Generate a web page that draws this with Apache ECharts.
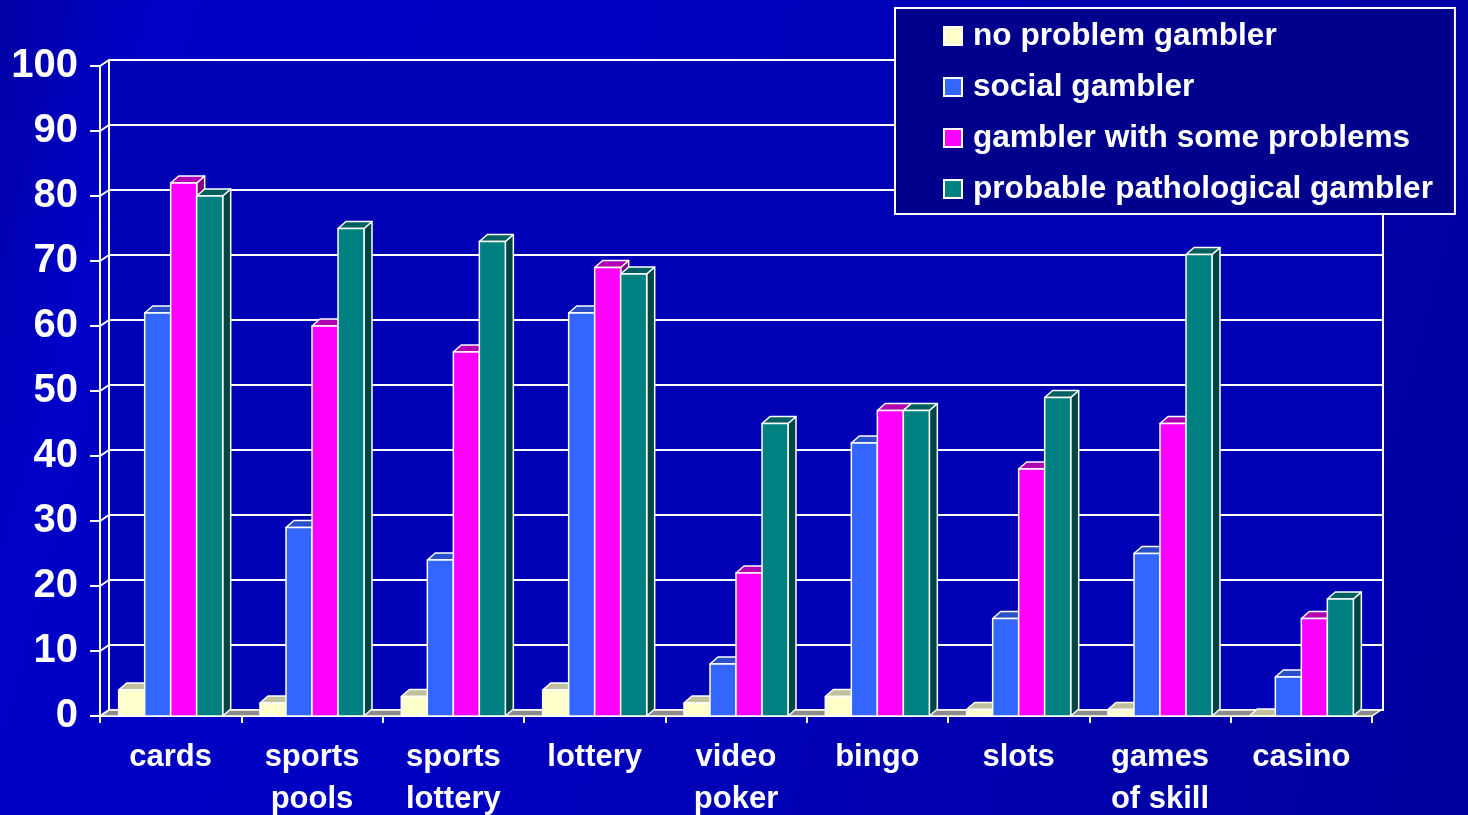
<!DOCTYPE html>
<html>
<head>
<meta charset="utf-8">
<script src="https://cdn.jsdelivr.net/npm/echarts@6/dist/echarts.min.js"></script>
<style>
  html, body { margin: 0; padding: 0; }
  #chart {
    width: 1468px;
    height: 815px;
    background: linear-gradient(105deg, #0000a4 0%, #0000c6 9%, #0000c2 35%, #0000ae 70%, #00009c 100%);
  }
</style>
</head>
<body>
<div id="chart"></div>
<script>
const categories = ['cards', 'sports\npools', 'sports\nlottery', 'lottery', 'video\npoker', 'bingo', 'slots', 'games\nof skill', 'casino'];
const noProblem = [4, 2, 3, 4, 2, 3, 1, 1, 0];
const social = [62, 29, 24, 62, 8, 42, 15, 25, 6];
const someProblems = [82, 60, 56, 69, 22, 47, 38, 45, 15];
const pathological = [80, 75, 73, 68, 45, 47, 49, 71, 18];
const yTicks = [0, 10, 20, 30, 40, 50, 60, 70, 80, 90, 100];

const seriesNames = ['no problem gambler', 'social gambler', 'gambler with some problems', 'probable pathological gambler'];
const seriesData = [noProblem, social, someProblems, pathological];
const palette = [
  { front: '#ffffcc', top: '#c0c09c', side: '#a0a080' },
  { front: '#3366ff', top: '#2a50c8', side: '#1f3c99' },
  { front: '#ff00ff', top: '#b000b0', side: '#800080' },
  { front: '#008080', top: '#006060', side: '#004444' }
];

const font = "'Liberation Sans', Arial, sans-serif";
const DX = 8, DY = 7;      // bar depth
const WX = 9, WY = 6;      // wall depth
const edge = { stroke: '#ffffff', lineWidth: 1.5, lineJoin: 'round' };

// one 3d column per data item; later series are drawn over earlier ones
function barRenderer(idx) {
  const c = palette[idx];
  return function (params, api) {
    const cat = api.value(0);
    const base = api.coord([cat, 0]);
    const top = api.coord([cat, api.value(1)]);
    const w = api.size([1, 0])[0] * 0.184;
    const x = base[0] - 2 * w + idx * w;
    const y = top[1], y0 = base[1];
    return {
      type: 'group',
      children: [
        { type: 'polygon', shape: { points: [[x + w, y], [x + w + DX, y - DY], [x + w + DX, y0 - DY], [x + w, y0]] },
          style: Object.assign({ fill: c.side }, edge) },
        { type: 'polygon', shape: { points: [[x, y], [x + DX, y - DY], [x + w + DX, y - DY], [x + w, y]] },
          style: Object.assign({ fill: c.top }, edge) },
        { type: 'rect', shape: { x: x, y: y, width: w, height: y0 - y },
          style: Object.assign({ fill: c.front }, edge) }
      ]
    };
  };
}

// left wall diagonals and grey floor
function wallRenderer(params, api) {
  const cs = params.coordSys;
  const p = api.coord([0, api.value(1)]);
  const children = [
    { type: 'line', shape: { x1: cs.x, y1: p[1], x2: cs.x + WX, y2: p[1] - WY },
      style: { stroke: '#ffffff', lineWidth: 2 } }
  ];
  if (api.value(1) === 0) {
    children.unshift({
      type: 'polygon',
      shape: { points: [[cs.x, p[1]], [cs.x + cs.width, p[1]], [cs.x + cs.width + WX, p[1] - WY], [cs.x + WX, p[1] - WY]] },
      style: { fill: '#8c8c8c', stroke: '#ffffff', lineWidth: 1.5 }
    });
  }
  return { type: 'group', children: children };
}

const chart = echarts.init(document.getElementById('chart'));

const series = [{
  name: 'wall',
  type: 'custom',
  xAxisIndex: 0,
  yAxisIndex: 0,
  renderItem: wallRenderer,
  data: yTicks.map(v => [0, v]),
  silent: true
}];
seriesData.forEach((arr, i) => {
  series.push({
    name: seriesNames[i],
    type: 'custom',
    xAxisIndex: 0,
    yAxisIndex: 0,
    renderItem: barRenderer(i),
    itemStyle: { color: palette[i].front },
    encode: { x: 0, y: 1 },
    data: arr.map((v, j) => [j, v])
  });
});

chart.setOption({
  backgroundColor: 'transparent',
  animation: false,
  textStyle: { fontFamily: font },
  grid: [
    { left: 100, right: 96, top: 66, bottom: 99, outerBoundsMode: 'none' },
    { left: 109, right: 85, top: 60, bottom: 105, outerBoundsMode: 'none', show: true, backgroundColor: '#0000b4',
      borderColor: '#ffffff', borderWidth: 2 }
  ],
  legend: {
    orient: 'vertical',
    left: 895,
    top: 8,
    padding: [12, 22, 9, 48],
    itemGap: 19,
    itemWidth: 18,
    itemHeight: 18,
    backgroundColor: '#00008c',
    borderColor: '#ffffff',
    borderWidth: 2,
    borderRadius: 0,
    itemStyle: { borderColor: '#ffffff', borderWidth: 2 },
    textStyle: { color: '#ffffff', fontSize: 31.6, fontWeight: 'bold', fontFamily: font, lineHeight: 30, padding: [0, 0, 0, 6] },
    data: seriesNames.map(n => ({ name: n, icon: 'rect' }))
  },
  xAxis: [
    {
      type: 'category',
      gridIndex: 0,
      data: categories,
      axisLine: { lineStyle: { color: '#ffffff', width: 2 } },
      axisTick: { show: true, length: 7, interval: 0, lineStyle: { color: '#ffffff', width: 2 } },
      axisLabel: { interval: 0, color: '#ffffff', fontSize: 31, fontWeight: 'bold', lineHeight: 42, margin: 20, fontFamily: font },
      splitLine: { show: false }
    },
    { type: 'value', gridIndex: 1, show: false }
  ],
  yAxis: [
    {
      type: 'value',
      gridIndex: 0,
      min: 0,
      max: 100,
      interval: 10,
      axisLine: { show: true, lineStyle: { color: '#ffffff', width: 2 } },
      axisTick: { show: true, length: 10, lineStyle: { color: '#ffffff', width: 2 } },
      axisLabel: { color: '#ffffff', fontSize: 40, fontWeight: 'bold', margin: 22, fontFamily: font },
      splitLine: { show: false }
    },
    {
      type: 'value',
      gridIndex: 1,
      min: 0,
      max: 100,
      interval: 10,
      axisLine: { show: false },
      axisTick: { show: false },
      axisLabel: { show: false },
      splitLine: { show: true, lineStyle: { color: '#ffffff', width: 2 } }
    }
  ],
  series: series
});
</script>
</body>
</html>
